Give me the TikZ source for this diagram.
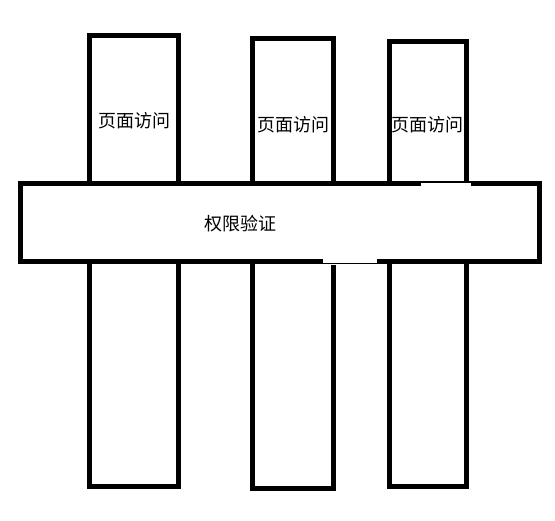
\documentclass[tikz,border=0pt]{standalone}
\usepackage{fontspec}
\newfontfamily\cjk{Noto Sans CJK SC}
\usetikzlibrary{positioning}
\tikzstyle{pillar} = [rectangle, draw=black, line width=5pt, fill=white, inner sep=0pt]
\tikzstyle{band} = [rectangle, draw=black, line width=5pt, fill=white, inner sep=0pt, minimum width=518.5pt, minimum height=78pt]
\tikzstyle{chartext} = [font=\cjk\fontsize{18pt}{18pt}\selectfont, inner sep=0pt, text=black]
\tikzstyle{erase} = [fill=white, draw=none]
\begin{document}
\begin{tikzpicture}[x=1pt, y=-1pt]
		\useasboundingbox [fill=white] (0,0) rectangle (555,521);
		\node (PageA) [pillar, minimum width=89pt, minimum height=451.5pt] at (134,261.25) {};
		\node (PageB) [pillar, minimum width=80.5pt, minimum height=450pt] at (292.75,263.5) {};
		\node (PageC) [pillar, minimum width=77.5pt, minimum height=445.5pt] at (427.75,264.25) {};
		\node (Auth) [band] at (279.75,222.5) {};
		\path [erase] (421,182.6) rectangle (471,186.5);
		\path [erase] (323,258.5) rectangle (377,263);
		\path [erase] (323,264) rectangle (377,265);
		\node (PageAText) [chartext] at (134,120.5) {页面访问};
		\node (PageBText) [chartext] at (293,124.5) {页面访问};
		\node (PageCText) [chartext] at (427.5,124.5) {页面访问};
		\node (AuthText) [chartext] at (240.5,223.5) {权限验证};
\end{tikzpicture}
\end{document}
